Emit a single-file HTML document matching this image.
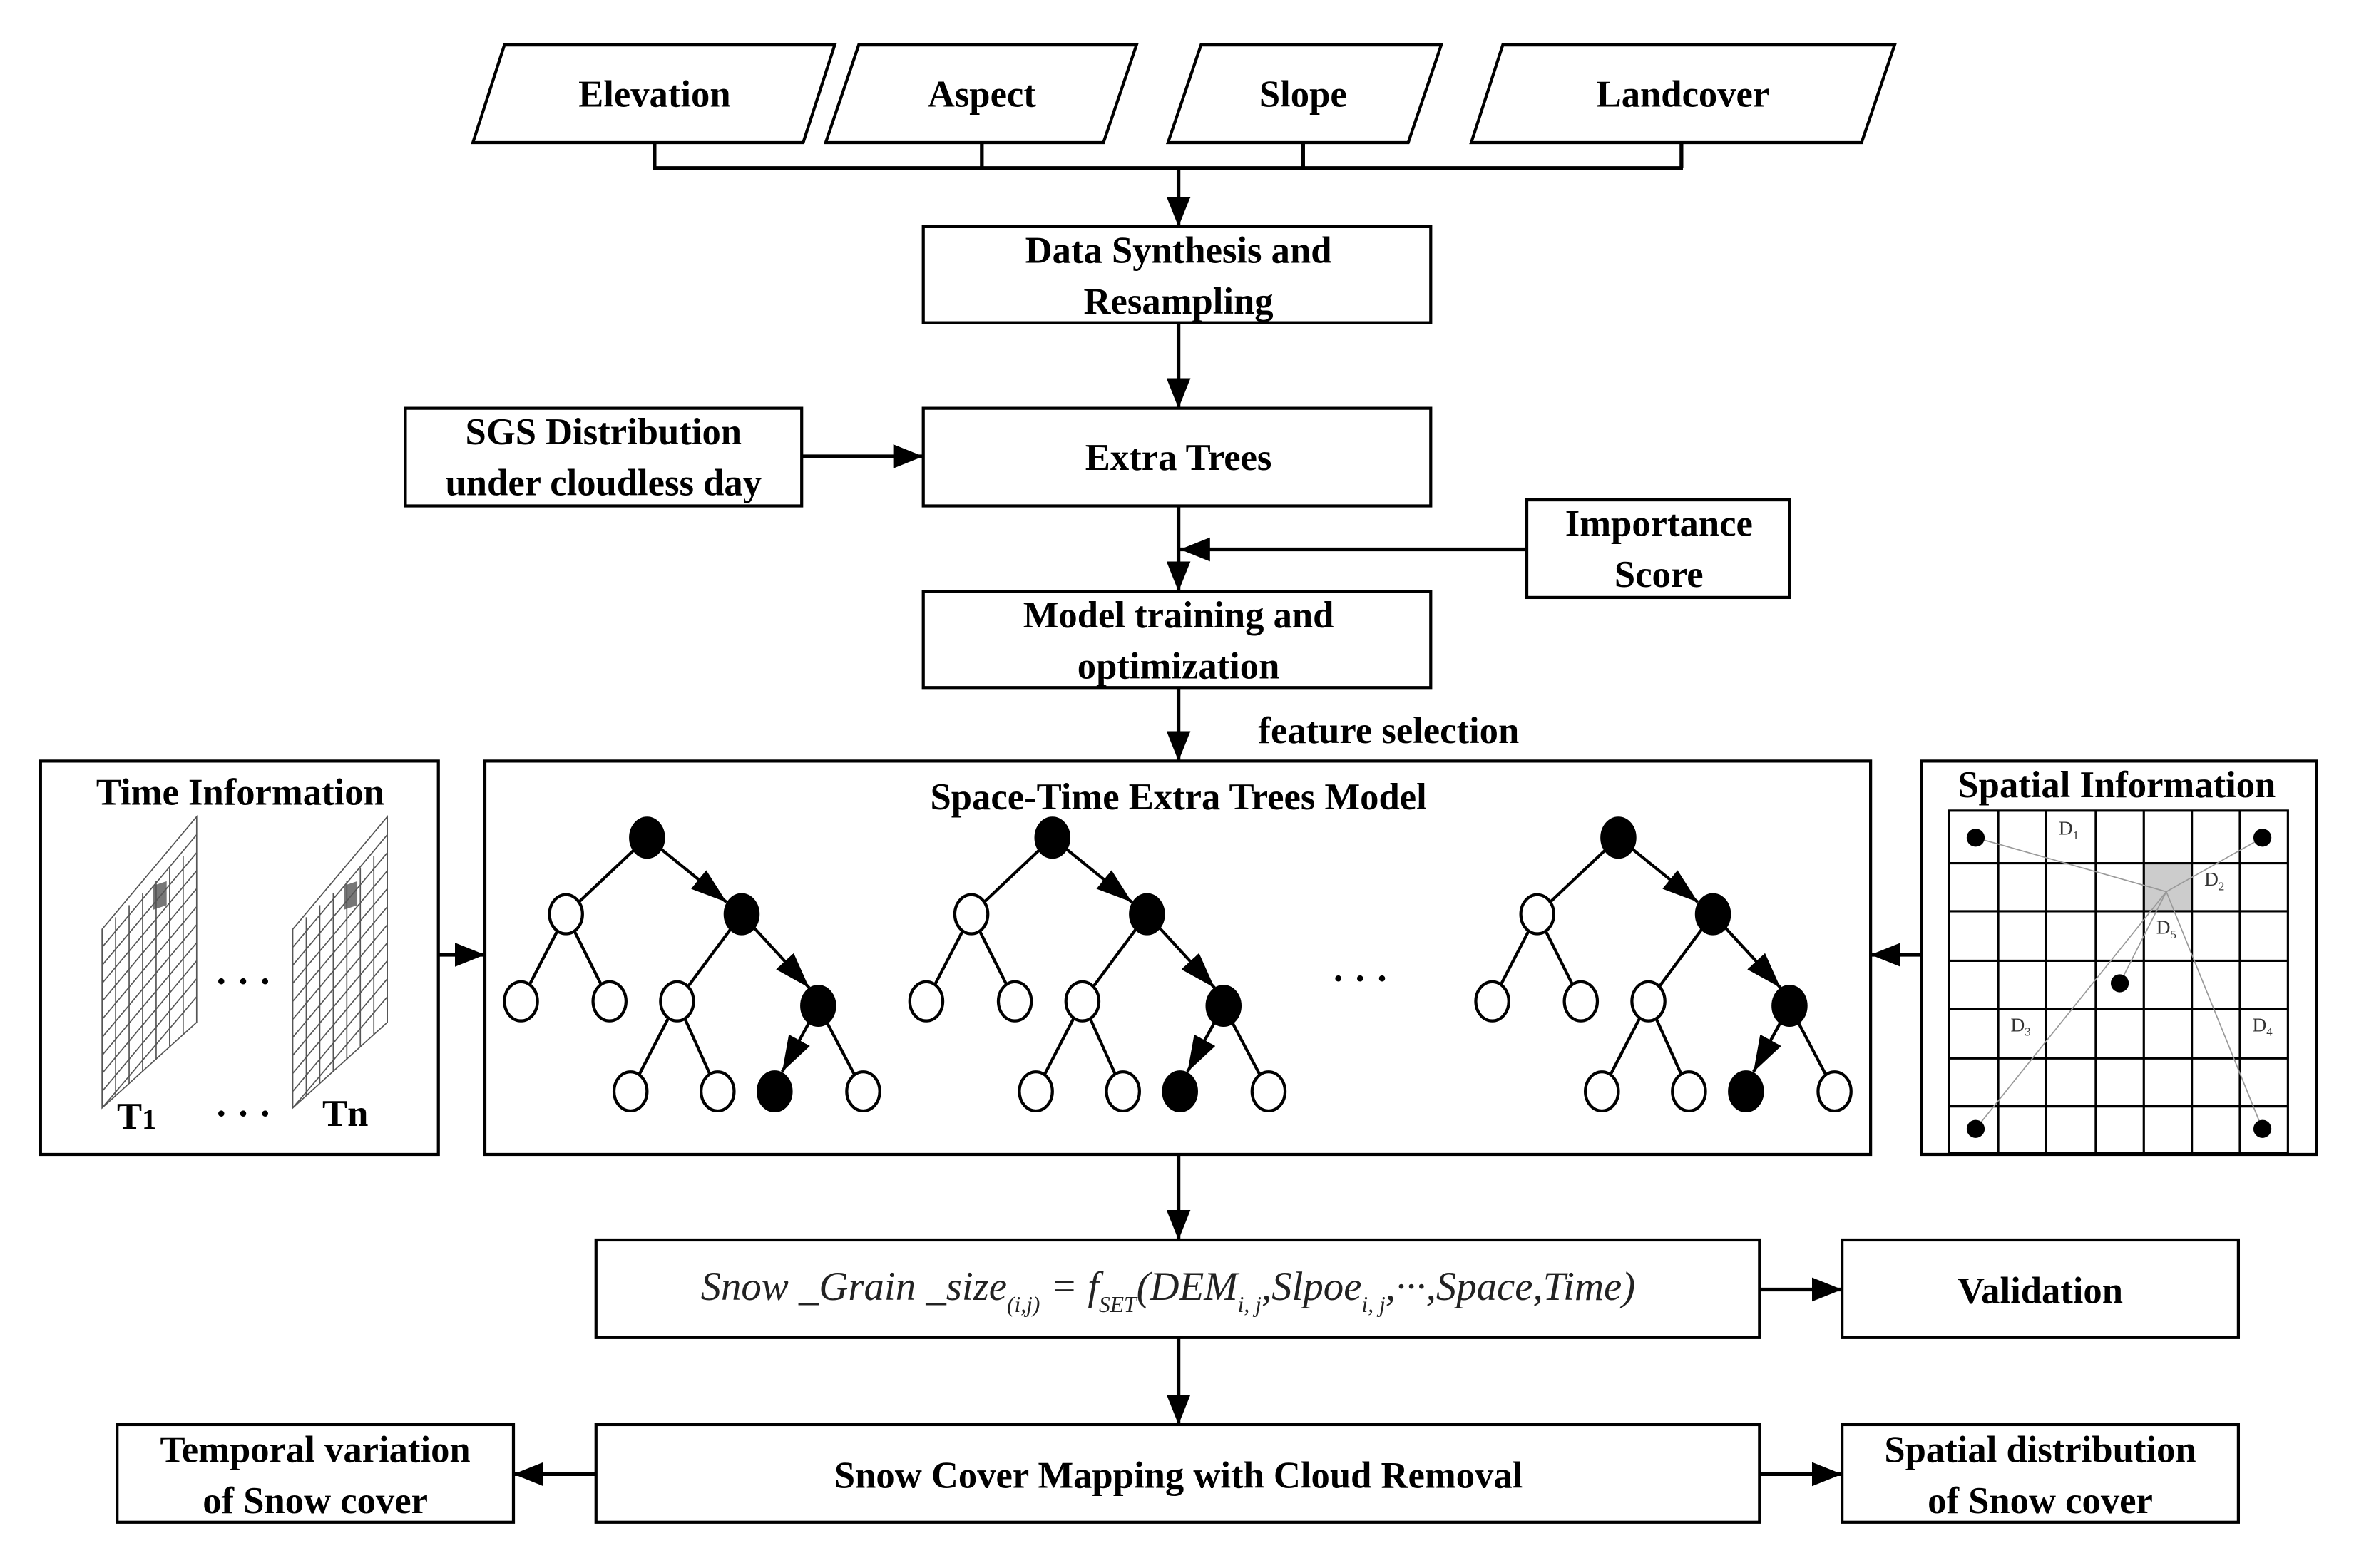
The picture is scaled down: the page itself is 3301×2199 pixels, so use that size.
<!DOCTYPE html>
<html><head><meta charset="utf-8"><style>
html,body{margin:0;padding:0;background:#fff}
svg{display:block}
text{font-family:"Liberation Serif","Times New Roman","DejaVu Serif",serif;font-weight:bold;font-size:25px;fill:#000;text-anchor:middle}
text.n{font-weight:normal;font-size:13px;fill:#333}
</style></head><body>
<svg width="3301" height="2199" viewBox="0 0 1568 1044.5" preserveAspectRatio="none" xmlns="http://www.w3.org/2000/svg" font-family="Liberation Serif, serif">
<defs>
<marker id="A" viewBox="0 0 20 16" refX="20" refY="8" markerWidth="20" markerHeight="16" orient="auto" markerUnits="userSpaceOnUse"><path d="M0,0 L20,8 L0,16 z" fill="#000"/></marker>
<marker id="T" viewBox="0 0 24 16" refX="24" refY="8" markerWidth="24" markerHeight="16" orient="auto" markerUnits="userSpaceOnUse"><path d="M0,0 L24,8 L0,16 z" fill="#000"/></marker>
</defs>
<g fill="#fff" stroke="#000" stroke-width="2">
<polygon points="336,30 556,30 535,95 315,95"/>
<polygon points="572,30 757,30 735,95 550,95"/>
<polygon points="800,30 960,30 938,95 778,95"/>
<polygon points="1001,30 1262,30 1240,95 980,95"/>
<rect x="615" y="151" width="338" height="64"/>
<rect x="615" y="272" width="338" height="65"/>
<rect x="270" y="272" width="264" height="65"/>
<rect x="1017" y="333" width="175" height="65"/>
<rect x="615" y="394" width="338" height="64"/>
<rect x="27" y="507" width="265" height="262"/>
<rect x="323" y="507" width="923" height="262"/>
<rect x="1280" y="507" width="263" height="262"/>
<rect x="397" y="826" width="775" height="65"/>
<rect x="1227" y="826" width="264" height="65"/>
<rect x="397" y="949" width="775" height="65"/>
<rect x="78" y="949" width="264" height="65"/>
<rect x="1227" y="949" width="264" height="65"/>
</g>
<g stroke="#000" stroke-width="2.5" fill="none">
<path d="M436,95V112M654,95V112M868,95V112M1120,95V112M435,112H1121"/>
<line x1="785" y1="112" x2="785" y2="151" marker-end="url(#A)"/>
<line x1="785" y1="215" x2="785" y2="272" marker-end="url(#A)"/>
<line x1="534" y1="304" x2="615" y2="304" marker-end="url(#A)"/>
<line x1="785" y1="337" x2="785" y2="394" marker-end="url(#A)"/>
<line x1="1017" y1="366" x2="786" y2="366" marker-end="url(#A)"/>
<line x1="785" y1="458" x2="785" y2="507" marker-end="url(#A)"/>
<line x1="292" y1="636" x2="323" y2="636" marker-end="url(#A)"/>
<line x1="1280" y1="636" x2="1246" y2="636" marker-end="url(#A)"/>
<line x1="785" y1="769" x2="785" y2="826" marker-end="url(#A)"/>
<line x1="785" y1="891" x2="785" y2="949" marker-end="url(#A)"/>
<line x1="1172" y1="859" x2="1227" y2="859" marker-end="url(#A)"/>
<line x1="397" y1="982" x2="342" y2="982" marker-end="url(#A)"/>
<line x1="1172" y1="982" x2="1227" y2="982" marker-end="url(#A)"/>
</g>
<text x="436" y="71">Elevation</text>
<text x="654" y="71">Aspect</text>
<text x="868" y="71">Slope</text>
<text x="1121" y="71">Landcover</text>
<text x="785" y="175">Data Synthesis and</text>
<text x="785" y="209">Resampling</text>
<text x="785" y="313">Extra Trees</text>
<text x="402" y="296">SGS Distribution</text>
<text x="402" y="330">under cloudless day</text>
<text x="1105" y="357">Importance</text>
<text x="1105" y="391">Score</text>
<text x="785" y="418">Model training and</text>
<text x="785" y="452">optimization</text>
<text x="925" y="495">feature selection</text>
<text x="160" y="536">Time Information</text>
<text x="785" y="539">Space-Time Extra Trees Model</text>
<text x="1410" y="531">Spatial Information</text>
<text x="1359" y="868">Validation</text>
<text x="785" y="991">Snow Cover Mapping with Cloud Removal</text>
<text x="210" y="974">Temporal variation</text>
<text x="210" y="1008">of Snow cover</text>
<text x="1359" y="974">Spatial distribution</text>
<text x="1359" y="1008">of Snow cover</text>
<text x="91" y="752">T<tspan font-size="19">1</tspan></text>
<text x="230" y="750">Tn</text>
<text x="162" y="750" font-size="28">· · ·</text>
<text x="162" y="662" font-size="28">· · ·</text>
<text x="906" y="660" font-size="28">· · ·</text>
<text x="778" y="866" style="font-weight:normal;font-style:italic;font-size:27px;fill:#222">Snow _Grain _size<tspan font-size="15" dy="8">(i,j)</tspan><tspan dy="-8"> = f</tspan><tspan font-size="15" dy="8">SET</tspan><tspan dy="-8">(DEM</tspan><tspan font-size="15" dy="8">i, j</tspan><tspan dy="-8">,Slpoe</tspan><tspan font-size="15" dy="8">i, j</tspan><tspan dy="-8">,···,Space,Time)</tspan></text>
<!-- time grids -->
<g id="g1" stroke="#555" stroke-width="0.8" fill="none">
<polygon points="102,590 111,587 111,603 102,606" fill="#777" stroke="none"/>
<path d="M68,619L131,544V681L68,738Z"/>
<path d="M77,611V730M86,603V722M95,595V714M104,587V706M113,578V697M122,570V689"/>
<path d="M68,631L131,556M68,643L131,568M68,655L131,580M68,667L131,592M68,679L131,604M68,691L131,616M68,703L131,628M68,715L131,640M68,727L131,652M68,738L131,664"/>
</g>
<use href="#g1" transform="translate(127,0)"/>
<!-- spatial grid -->
<rect x="1428" y="575" width="32" height="32" fill="#ccc"/>
<g stroke="#000" stroke-width="1.5" fill="none">
<rect x="1298" y="540" width="226" height="228"/>
<path d="M1331,540V768M1363,540V768M1396,540V768M1428,540V768M1460,540V768M1492,540V768"/>
<path d="M1298,575H1524M1298,607H1524M1298,640H1524M1298,672H1524M1298,705H1524M1298,737H1524"/>
</g>
<g stroke="#999" stroke-width="0.8" fill="none">
<path d="M1316,558L1443,594L1507,558M1443,594L1316,752M1443,594L1507,752M1443,594L1412,655"/>
</g>
<g fill="#000">
<circle cx="1316" cy="558" r="6"/><circle cx="1507" cy="558" r="6"/><circle cx="1412" cy="655" r="6"/><circle cx="1316" cy="752" r="6"/><circle cx="1507" cy="752" r="6"/>
</g>
<text class="n" x="1378" y="556">D<tspan font-size="8" dy="3">1</tspan></text>
<text class="n" x="1475" y="590">D<tspan font-size="8" dy="3">2</tspan></text>
<text class="n" x="1443" y="622">D<tspan font-size="8" dy="3">5</tspan></text>
<text class="n" x="1346" y="687">D<tspan font-size="8" dy="3">3</tspan></text>
<text class="n" x="1507" y="687">D<tspan font-size="8" dy="3">4</tspan></text>
<!-- trees -->
<g id="tr">
<g stroke="#000" stroke-width="2" fill="none">
<path d="M431,558L377,609M377,609L347,667M377,609L406,667M494,609L451,667M451,667L420,727M451,667L478,727M545,670L575,727"/>
<line x1="431" y1="558" x2="484" y2="601" marker-end="url(#T)"/>
<line x1="494" y1="609" x2="539" y2="658" marker-end="url(#T)"/>
<line x1="545" y1="670" x2="521" y2="714" marker-end="url(#T)"/>
</g>
<g stroke="#000" stroke-width="2" fill="#fff">
<ellipse cx="377" cy="609" rx="11" ry="13"/><ellipse cx="347" cy="667" rx="11" ry="13"/><ellipse cx="406" cy="667" rx="11" ry="13"/><ellipse cx="451" cy="667" rx="11" ry="13"/><ellipse cx="420" cy="727" rx="11" ry="13"/><ellipse cx="478" cy="727" rx="11" ry="13"/><ellipse cx="575" cy="727" rx="11" ry="13"/>
<g fill="#000"><ellipse cx="431" cy="558" rx="11" ry="13"/><ellipse cx="494" cy="609" rx="11" ry="13"/><ellipse cx="545" cy="670" rx="11" ry="13"/><ellipse cx="516" cy="727" rx="11" ry="13"/></g>
</g>
</g>
<use href="#tr" transform="translate(270,0)"/>
<use href="#tr" transform="translate(647,0)"/>
</svg>
</body></html>
